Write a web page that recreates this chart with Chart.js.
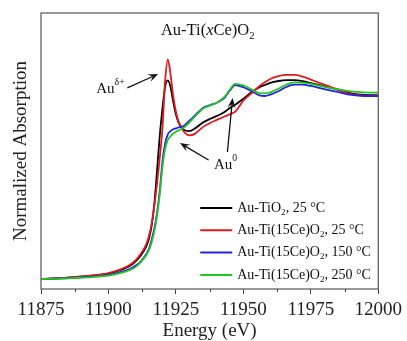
<!DOCTYPE html>
<html>
<head>
<meta charset="utf-8">
<script src="https://cdn.jsdelivr.net/npm/chart.js@4.4.0/dist/chart.umd.min.js"></script>
<style>
  html, body { margin: 0; padding: 0; background: #fff; }
  #wrap { width: 407px; height: 341px; }
</style>
</head>
<body>
<div id="wrap"><canvas id="xanes"></canvas></div>
<script>
// photon energy (eV) shared by all spectra
const energy = [11875, 11885, 11895, 11900, 11905, 11908, 11910, 11912, 11914, 11915,
  11916, 11917, 11918, 11919, 11920, 11921, 11922, 11923, 11924, 11925,
  11926, 11928, 11930, 11932, 11935, 11938, 11940, 11943, 11945, 11947,
  11950, 11953, 11956, 11958, 11960, 11963, 11966, 11969, 11972, 11975,
  11980, 11985, 11990, 11995, 12000];

// normalized absorption
const auTiO2_25 = [0, .008, .02, .03, .052, .072, .095, .128, .178, .22,
  .29, .41, .59, .78, .93, 1.05, 1.085, 1.05, .97, .90,
  .855, .815, .808, .822, .855, .877, .89, .912, .935, .952,
  .985, 1.02, 1.048, 1.06, 1.072, 1.082, 1.087, 1.087, 1.081, 1.071,
  1.053, 1.035, 1.015, 1.006, 1.004];
const auTiCe_25 = [0, .008, .021, .032, .056, .078, .102, .138, .19, .235,
  .30, .40, .52, .66, .82, 1.08, 1.20, 1.12, 1.0, .915,
  .86, .805, .785, .793, .83, .855, .868, .888, .9, .915,
  .975, 1.015, 1.055, 1.075, 1.093, 1.108, 1.115, 1.115, 1.106, 1.09,
  1.062, 1.035, 1.01, 1.002, 1.003];
const auTiCe_150 = [0, .005, .014, .022, .04, .056, .072, .097, .135, .165,
  .215, .275, .36, .48, .64, .74, .79, .808, .818, .823,
  .828, .838, .865, .893, .935, .952, .962, .99, 1.03, 1.06,
  1.048, 1.027, 1.003, 1.0, 1.008, 1.026, 1.05, 1.062, 1.062, 1.055,
  1.038, 1.022, 1.006, 1.0, 1.0];
const auTiCe_250 = [0, .004, .012, .019, .035, .05, .065, .092, .13, .158,
  .2, .26, .345, .46, .61, .71, .76, .78, .795, .805,
  .812, .828, .855, .887, .93, .95, .962, .995, 1.035, 1.066,
  1.058, 1.036, 1.016, 1.014, 1.02, 1.04, 1.063, 1.075, 1.073, 1.066,
  1.05, 1.037, 1.025, 1.02, 1.018];

const seriesLabels = ['Au-TiO_{2}, 25 °C', 'Au-Ti(15Ce)O_{2}, 25 °C',
  'Au-Ti(15Ce)O_{2}, 150 °C', 'Au-Ti(15Ce)O_{2}, 250 °C'];
const xTicks = [11875, 11900, 11925, 11950, 11975, 12000];
const xMinorTicks = [11887.5, 11912.5, 11937.5, 11962.5, 11987.5];

const colors = ['#000000', '#e3171c', '#2323dd', '#25c425'];
const serif = "'Liberation Serif', 'Times New Roman', serif";

// text labels inside the plot, positioned in data units
const notes = [
  { text: 'Au-Ti(*x*Ce)O_{2}', x: 11936.8, y: 1.355, size: 16.5, align: 'center' },
  { text: 'Au^{δ+}', x: 11906.0, y: 1.038, size: 15, align: 'right' },
  { text: 'Au^{0}', x: 11943.4, y: 0.623, size: 15, align: 'center' }
];
const arrows = [
  { from: [11907.0, 1.044], to: [11918.4, 1.12] },
  { from: [11937.1, 0.65], to: [11926.5, 0.743] },
  { from: [11944.1, 0.694], to: [11946.0, 0.989] }
];

function parseRich(str) {
  const segs = [];
  const re = /_\{([^}]*)\}|\^\{([^}]*)\}|\*([^*]*)\*|([^_^*]+)/g;
  let m;
  while ((m = re.exec(str))) {
    if (m[1] !== undefined) segs.push({ t: m[1], k: 'sub' });
    else if (m[2] !== undefined) segs.push({ t: m[2], k: 'sup' });
    else if (m[3] !== undefined) segs.push({ t: m[3], k: 'it' });
    else segs.push({ t: m[4], k: 'n' });
  }
  return segs;
}

function segFont(k, size) {
  if (k === 'sub' || k === 'sup') return (size * 0.65) + 'px ' + serif;
  if (k === 'it') return 'italic ' + size + 'px ' + serif;
  return size + 'px ' + serif;
}

function drawRich(ctx, str, x, y, size, align) {
  const segs = parseRich(str);
  let w = 0;
  segs.forEach(s => { ctx.font = segFont(s.k, size); w += ctx.measureText(s.t).width; });
  let cx = align === 'center' ? x - w / 2 : align === 'right' ? x - w : x;
  ctx.textAlign = 'left';
  ctx.textBaseline = 'middle';
  segs.forEach(s => {
    ctx.font = segFont(s.k, size);
    const dy = s.k === 'sub' ? size * 0.32 : s.k === 'sup' ? -size * 0.42 : 0;
    ctx.fillText(s.t, cx, y + dy);
    cx += ctx.measureText(s.t).width;
  });
}

function drawArrow(ctx, x1, y1, x2, y2) {
  const ang = Math.atan2(y2 - y1, x2 - x1);
  const len = 10, half = 4;
  ctx.beginPath();
  ctx.moveTo(x1, y1);
  ctx.lineTo(x2 - Math.cos(ang) * len * 0.6, y2 - Math.sin(ang) * len * 0.6);
  ctx.stroke();
  ctx.beginPath();
  ctx.moveTo(x2, y2);
  ctx.lineTo(x2 - Math.cos(ang) * len - Math.sin(ang) * half, y2 - Math.sin(ang) * len + Math.cos(ang) * half);
  ctx.lineTo(x2 - Math.cos(ang) * len * 0.6, y2 - Math.sin(ang) * len * 0.6);
  ctx.lineTo(x2 - Math.cos(ang) * len + Math.sin(ang) * half, y2 - Math.sin(ang) * len - Math.cos(ang) * half);
  ctx.closePath();
  ctx.fill();
}

const decorations = {
  id: 'decorations',
  afterDraw(chart) {
    const ctx = chart.ctx;
    const area = chart.chartArea;
    const xs = chart.scales.x, ys = chart.scales.y;
    ctx.save();

    // frame
    ctx.strokeStyle = '#555';
    ctx.lineWidth = 1.2;
    ctx.strokeRect(area.left, area.top, area.right - area.left, area.bottom - area.top);

    // minor ticks
    ctx.strokeStyle = '#444';
    ctx.lineWidth = 1;
    xMinorTicks.forEach(v => {
      const px = Math.round(xs.getPixelForValue(v)) + 0.5;
      ctx.beginPath();
      ctx.moveTo(px, area.bottom);
      ctx.lineTo(px, area.bottom + 3);
      ctx.stroke();
    });

    // annotations
    ctx.fillStyle = '#111';
    notes.forEach(n => {
      drawRich(ctx, n.text, xs.getPixelForValue(n.x), ys.getPixelForValue(n.y), n.size, n.align);
    });
    ctx.strokeStyle = '#111';
    ctx.lineWidth = 1.3;
    arrows.forEach(a => {
      drawArrow(ctx,
        xs.getPixelForValue(a.from[0]), ys.getPixelForValue(a.from[1]),
        xs.getPixelForValue(a.to[0]), ys.getPixelForValue(a.to[1]));
    });

    // legend
    const lx = area.right - 178, ly = area.bottom - 81, rowH = 22.3;
    seriesLabels.forEach((lab, i) => {
      const y = ly + i * rowH;
      ctx.strokeStyle = colors[i];
      ctx.lineWidth = 2;
      ctx.beginPath();
      ctx.moveTo(lx, y);
      ctx.lineTo(lx + 32, y);
      ctx.stroke();
      ctx.fillStyle = '#111';
      drawRich(ctx, lab, lx + 37, y, 14, 'left');
    });
    ctx.restore();
  }
};

const seriesValues = [auTiO2_25, auTiCe_25, auTiCe_150, auTiCe_250];

new Chart(document.getElementById('xanes'), {
  type: 'line',
  data: {
    datasets: seriesValues.map((vals, i) => ({
      label: seriesLabels[i],
      data: energy.map((e, j) => ({ x: e, y: vals[j] })),
      borderColor: colors[i],
      borderWidth: 1.8,
      pointRadius: 0,
      fill: false,
      cubicInterpolationMode: 'monotone',
      order: 4 - i
    }))
  },
  options: {
    responsive: true,
    maintainAspectRatio: false,
    animation: false,
    layout: { padding: { top: 13, right: 26, left: 0, bottom: 0 } },
    plugins: { legend: { display: false }, tooltip: { enabled: false } },
    scales: {
      x: {
        type: 'linear',
        min: 11875,
        max: 12000,
        afterFit: (scale) => { scale.height = 52; },
        afterBuildTicks: (scale) => { scale.ticks = xTicks.map(v => ({ value: v })); },
        border: { display: false },
        grid: { drawOnChartArea: false, drawTicks: true, tickLength: 5, tickColor: '#444' },
        ticks: {
          color: '#222',
          padding: 5,
          maxRotation: 0,
          font: { family: serif, size: 19 },
          callback: (v) => String(v)
        },
        title: {
          display: true,
          text: 'Energy (eV)',
          color: '#222',
          padding: { top: 0, bottom: 0 },
          font: { family: serif, size: 19, lineHeight: 1.0 }
        }
      },
      y: {
        min: -0.0546,
        max: 1.4536,
        afterFit: (scale) => { scale.width = 41; },
        border: { display: false },
        grid: { display: false },
        ticks: { display: false },
        title: {
          display: true,
          text: 'Normalized Absorption',
          color: '#222',
          padding: { top: 12, bottom: 0 },
          font: { family: serif, size: 19, lineHeight: 1.0 }
        }
      }
    }
  },
  plugins: [decorations]
});
</script>
</body>
</html>
